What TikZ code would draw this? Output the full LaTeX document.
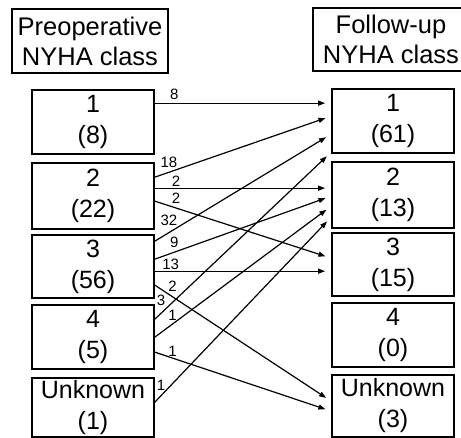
\documentclass[tikz,border=0pt]{standalone}
\usepackage{fontspec}
\setmainfont{Liberation Sans}
\usetikzlibrary{arrows.meta}
\begin{document}
\begin{tikzpicture}[x=1pt,y=-1pt,
  classbox/.style={draw, line width=1.7pt, minimum width=122pt, inner sep=0pt,
    align=center, font=\fontsize{25}{31}\selectfont},
  headbox/.style={draw, line width=1.5pt, minimum width=156pt, minimum height=64pt,
    inner sep=0pt, align=center, font=\fontsize{25.5}{30}\selectfont},
  flow/.style={line width=1.2pt, -{Triangle[length=7pt,width=5pt]}, shorten >=6pt},
  lbl/.style={font=\fontsize{15}{15}\selectfont, inner sep=1pt}]
\useasboundingbox (0,0) rectangle (461,438);
\fill[white] (0,0) rectangle (461,438);

% column headings
\node[headbox] (preh) at (90,41) {Preoperative\\NYHA class};
\node[headbox, minimum height=63pt] (fuh) at (391,39.5) {Follow-up\\NYHA class};

% preoperative classes
\node[classbox, minimum height=64pt] (L1) at (93,122)   {1\\(8)};
\node[classbox, minimum height=66pt] (L2) at (93,196)   {2\\(22)};
\node[classbox, minimum height=63pt] (L3) at (93,266.5) {3\\(56)};
\node[classbox, minimum height=64pt] (L4) at (93,337)   {4\\(5)};
\node[classbox, minimum height=59pt] (LU) at (93,407.5) {Unknown\\(1)};

% follow-up classes
\node[classbox, minimum height=64pt] (R1) at (393,121)   {1\\(61)};
\node[classbox, minimum height=66pt] (R2) at (393,195)   {2\\(13)};
\node[classbox, minimum height=63pt] (R3) at (393,264.5) {3\\(15)};
\node[classbox, minimum height=64pt] (R4) at (393,335)   {4\\(0)};
\node[classbox, minimum height=62pt] (RU) at (393,406)   {Unknown\\(3)};

% transitions between classes
\draw[flow] ([yshift=-14pt]L1.north east) -- node[lbl,pos=.11,above=2pt]{8}  ([yshift=-15pt]R1.north west);
\draw[flow] ([yshift=-15pt]L2.north east) -- node[lbl,pos=.08,above=3pt]{18} ([yshift=-28pt]R1.north west);
\draw[flow] ([yshift=-26pt]L2.north east) -- node[lbl,pos=.12,above=0pt]{2}  ([yshift=-27pt]R2.north west);
\draw[flow] ([yshift=-39pt]L2.north east) -- node[lbl,pos=.12,above=3pt]{2}  ([yshift=-26pt]R3.north west);
\draw[flow] ([yshift=-7pt]L3.north east)  -- node[lbl,pos=.08,above=5pt]{32} ([yshift=-46pt]R1.north west);
\draw[flow] ([yshift=-25pt]L3.north east) -- node[lbl,pos=.11,above=3pt]{9}  ([yshift=-35pt]R2.north west);
\draw[flow] ([yshift=-37pt]L3.north east) -- node[lbl,pos=.09,above=0pt]{13} ([yshift=-39pt]R3.north west);
\draw[flow] ([yshift=-51pt]L3.north east) -- node[lbl,pos=.10,above=4pt]{2}  ([yshift=-27pt]RU.north west);
\draw[flow] ([yshift=-15pt]L4.north east) -- node[lbl,pos=.035,above=6pt]{3} ([yshift=-64pt]R1.north west);
\draw[flow] ([yshift=-33pt]L4.north east) -- node[lbl,pos=.10,above=2pt]{1}  ([yshift=-45pt]R2.north west);
\draw[flow] ([yshift=-48pt]L4.north east) -- node[lbl,pos=.10,above=0pt]{1}  ([yshift=-37pt]RU.north west);
\draw[flow] ([yshift=-25pt]LU.north east) -- node[lbl,pos=.035,above=4pt]{1} ([yshift=-56pt]R2.north west);
\end{tikzpicture}
\end{document}
